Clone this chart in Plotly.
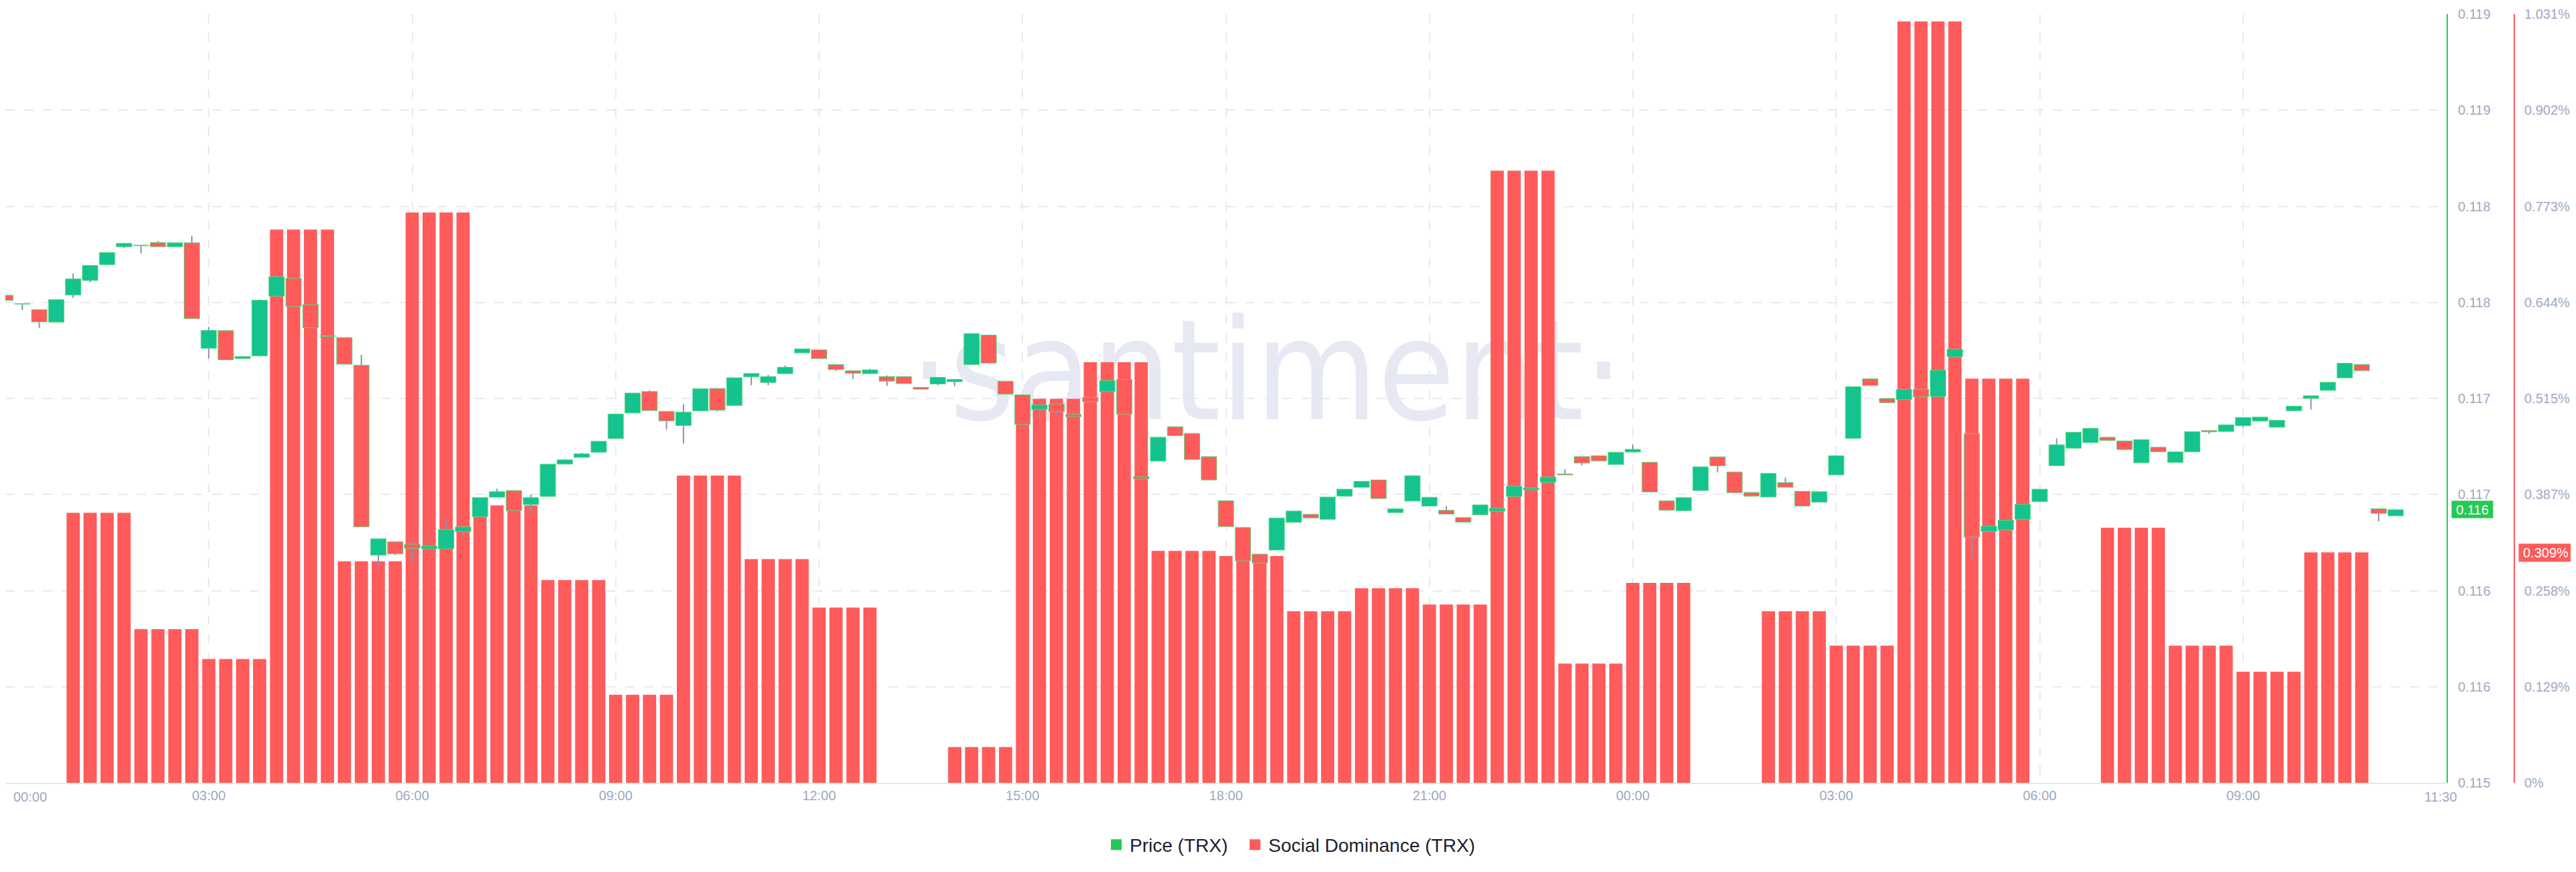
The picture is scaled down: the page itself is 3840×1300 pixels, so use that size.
import pandas as pd
import plotly.graph_objects as go

# ---------------- data ----------------
start = pd.Timestamp("2024-01-01 00:00")
slots = pd.date_range(start, periods=144, freq="15min")   # 15-minute candles / bars

opens = [0.117587, 0.117543, 0.117512, 0.117447, 0.117588, 0.117664, 0.117746, 0.117839, 0.117845, 0.117861,
         0.117839, 0.117860, 0.117311, 0.117403, 0.117258, 0.117271, 0.117582, 0.117675, 0.117539, 0.117376,
         0.117367, 0.117223, 0.116234, 0.116304, 0.116292, 0.116268, 0.116268, 0.116358, 0.116435, 0.116536,
         0.116571, 0.116498, 0.116540, 0.116708, 0.116743, 0.116770, 0.116841, 0.116974, 0.117086, 0.116983,
         0.116909, 0.116985, 0.117102, 0.117013, 0.117162, 0.117133, 0.117179, 0.117287, 0.117303, 0.117226,
         0.117194, 0.117179, 0.117164, 0.117164, 0.117108, 0.117125, 0.117137, 0.117226, 0.117380, 0.117140,
         0.117069, 0.116993, 0.117021, 0.116967, 0.117055, 0.117085, 0.117149, 0.116643, 0.116724, 0.116903,
         0.116868, 0.116747, 0.116518, 0.116379, 0.116240, 0.116261, 0.116405, 0.116447, 0.116421, 0.116541,
         0.116587, 0.116626, 0.116456, 0.116516, 0.116490, 0.116468, 0.116430, 0.116445, 0.116463, 0.116540,
         0.116575, 0.116613, 0.116657, 0.116747, 0.116752, 0.116706, 0.116771, 0.116718, 0.116517, 0.116466,
         0.116571, 0.116746, 0.116667, 0.116561, 0.116537, 0.116612, 0.116567, 0.116510, 0.116652, 0.116842,
         0.117152, 0.117050, 0.117044, 0.117098, 0.117060, 0.117267, 0.116867, 0.116358, 0.116366, 0.116421,
         0.116513, 0.116700, 0.116791, 0.116820, 0.116848, 0.116829, 0.116715, 0.116796, 0.116717, 0.116772,
         0.116883, 0.116878, 0.116908, 0.116932, 0.116900, 0.116986, 0.117050, 0.117092, 0.117157, 0.117227,
         0.116476, 0.116439]
highs = [0.117587, 0.117543, 0.117512, 0.117564, 0.117701, 0.117742, 0.117809, 0.117857, 0.117848, 0.117870,
         0.117862, 0.117896, 0.117422, 0.117403, 0.117268, 0.117564, 0.117683, 0.117675, 0.117539, 0.117376,
         0.117367, 0.117277, 0.116320, 0.116304, 0.116308, 0.116316, 0.116416, 0.116382, 0.116534, 0.116581,
         0.116571, 0.116551, 0.116708, 0.116731, 0.116767, 0.116827, 0.116969, 0.117078, 0.117093, 0.116983,
         0.117021, 0.117101, 0.117102, 0.117158, 0.117180, 0.117172, 0.117222, 0.117308, 0.117303, 0.117226,
         0.117194, 0.117204, 0.117170, 0.117164, 0.117108, 0.117160, 0.117149, 0.117388, 0.117380, 0.117140,
         0.117069, 0.117016, 0.117021, 0.116978, 0.117055, 0.117143, 0.117149, 0.116643, 0.116848, 0.116903,
         0.116868, 0.116747, 0.116518, 0.116379, 0.116240, 0.116428, 0.116464, 0.116447, 0.116537, 0.116578,
         0.116619, 0.116626, 0.116476, 0.116648, 0.116536, 0.116490, 0.116430, 0.116496, 0.116478, 0.116593,
         0.116584, 0.116641, 0.116681, 0.116747, 0.116752, 0.116770, 0.116811, 0.116718, 0.116517, 0.116534,
         0.116694, 0.116746, 0.116667, 0.116561, 0.116660, 0.116638, 0.116567, 0.116565, 0.116752, 0.117111,
         0.117152, 0.117050, 0.117097, 0.117098, 0.117197, 0.117306, 0.116867, 0.116385, 0.116416, 0.116499,
         0.116578, 0.116842, 0.116874, 0.116894, 0.116848, 0.116829, 0.116836, 0.116796, 0.116772, 0.116877,
         0.116883, 0.116913, 0.116951, 0.116953, 0.116936, 0.117010, 0.117064, 0.117134, 0.117233, 0.117227,
         0.116476, 0.116471]
lows = [0.117560, 0.117511, 0.117417, 0.117447, 0.117573, 0.117654, 0.117746, 0.117833, 0.117805, 0.117839,
        0.117839, 0.117465, 0.117258, 0.117251, 0.117255, 0.117271, 0.117582, 0.117529, 0.117418, 0.117357,
        0.117228, 0.116382, 0.116184, 0.116235, 0.116190, 0.116268, 0.116268, 0.116330, 0.116430, 0.116536,
        0.116466, 0.116448, 0.116540, 0.116708, 0.116743, 0.116770, 0.116841, 0.116974, 0.116987, 0.116888,
        0.116815, 0.116985, 0.116984, 0.117013, 0.117119, 0.117119, 0.117179, 0.117287, 0.117257, 0.117194,
        0.117151, 0.117179, 0.117116, 0.117127, 0.117098, 0.117119, 0.117114, 0.117226, 0.117234, 0.117072,
        0.116915, 0.116950, 0.116960, 0.116955, 0.117033, 0.117085, 0.116969, 0.116631, 0.116724, 0.116856,
        0.116732, 0.116625, 0.116383, 0.116205, 0.116194, 0.116261, 0.116405, 0.116428, 0.116421, 0.116541,
        0.116587, 0.116529, 0.116456, 0.116516, 0.116490, 0.116448, 0.116406, 0.116445, 0.116442, 0.116540,
        0.116557, 0.116613, 0.116652, 0.116701, 0.116725, 0.116706, 0.116771, 0.116563, 0.116468, 0.116466,
        0.116571, 0.116665, 0.116559, 0.116541, 0.116537, 0.116588, 0.116490, 0.116510, 0.116652, 0.116842,
        0.117117, 0.117028, 0.117044, 0.117058, 0.117060, 0.117267, 0.116226, 0.116358, 0.116366, 0.116421,
        0.116513, 0.116700, 0.116791, 0.116820, 0.116831, 0.116784, 0.116715, 0.116773, 0.116717, 0.116772,
        0.116865, 0.116878, 0.116900, 0.116932, 0.116900, 0.116986, 0.116992, 0.117092, 0.117157, 0.117194,
        0.116409, 0.116439]
closes = [0.117560, 0.117541, 0.117448, 0.117564, 0.117672, 0.117742, 0.117809, 0.117857, 0.117848, 0.117839,
          0.117860, 0.117465, 0.117404, 0.117251, 0.117268, 0.117561, 0.117683, 0.117529, 0.117418, 0.117373,
          0.117228, 0.116382, 0.116320, 0.116241, 0.116270, 0.116282, 0.116368, 0.116382, 0.116534, 0.116565,
          0.116466, 0.116534, 0.116708, 0.116731, 0.116762, 0.116827, 0.116969, 0.117078, 0.116987, 0.116933,
          0.116979, 0.117101, 0.116989, 0.117158, 0.117180, 0.117164, 0.117212, 0.117308, 0.117257, 0.117200,
          0.117181, 0.117199, 0.117140, 0.117127, 0.117098, 0.117160, 0.117149, 0.117388, 0.117234, 0.117072,
          0.116915, 0.117016, 0.116981, 0.116955, 0.117033, 0.117143, 0.116969, 0.116631, 0.116848, 0.116856,
          0.116732, 0.116625, 0.116383, 0.116205, 0.116194, 0.116428, 0.116464, 0.116428, 0.116537, 0.116578,
          0.116619, 0.116529, 0.116476, 0.116648, 0.116536, 0.116448, 0.116406, 0.116496, 0.116478, 0.116593,
          0.116584, 0.116641, 0.116652, 0.116714, 0.116725, 0.116770, 0.116785, 0.116563, 0.116468, 0.116534,
          0.116694, 0.116699, 0.116559, 0.116541, 0.116660, 0.116588, 0.116490, 0.116565, 0.116752, 0.117111,
          0.117117, 0.117028, 0.117097, 0.117058, 0.117197, 0.117306, 0.116328, 0.116385, 0.116416, 0.116499,
          0.116578, 0.116809, 0.116874, 0.116894, 0.116831, 0.116784, 0.116836, 0.116773, 0.116772, 0.116877,
          0.116876, 0.116913, 0.116951, 0.116953, 0.116936, 0.117010, 0.117064, 0.117134, 0.117233, 0.117194,
          0.116452, 0.116471]

social_dominance = [  # % per 15-minute slot
    0, 0, 0, 0,
    0.362, 0.362, 0.362, 0.362,
    0.206, 0.206, 0.206, 0.206,
    0.166, 0.166, 0.166, 0.166,
    0.742, 0.742, 0.742, 0.742,
    0.297, 0.297, 0.297, 0.297,
    0.765, 0.765, 0.765, 0.765,
    0.372, 0.372, 0.372, 0.372,
    0.272, 0.272, 0.272, 0.272,
    0.118, 0.118, 0.118, 0.118,
    0.412, 0.412, 0.412, 0.412,
    0.300, 0.300, 0.300, 0.300,
    0.235, 0.235, 0.235, 0.235,
    0, 0, 0, 0,
    0.048, 0.048, 0.048, 0.048,
    0.515, 0.515, 0.515, 0.515,
    0.564, 0.564, 0.564, 0.564,
    0.311, 0.311, 0.311, 0.311,
    0.304, 0.304, 0.304, 0.304,
    0.230, 0.230, 0.230, 0.230,
    0.261, 0.261, 0.261, 0.261,
    0.239, 0.239, 0.239, 0.239,
    0.821, 0.821, 0.821, 0.821,
    0.160, 0.160, 0.160, 0.160,
    0.268, 0.268, 0.268, 0.268,
    0, 0, 0, 0,
    0.230, 0.230, 0.230, 0.230,
    0.184, 0.184, 0.184, 0.184,
    1.021, 1.021, 1.021, 1.021,
    0.542, 0.542, 0.542, 0.542,
    0, 0, 0, 0,
    0.342, 0.342, 0.342, 0.342,
    0.184, 0.184, 0.184, 0.184,
    0.149, 0.149, 0.149, 0.149,
    0.309, 0.309, 0.309, 0.309,
    0, 0, 0, 0,
]

x_tick_labels = ["00:00", "03:00", "06:00", "09:00", "12:00", "15:00", "18:00", "21:00",
                 "00:00", "03:00", "06:00", "09:00"]
x_tick_hours = [0, 3, 6, 9, 12, 15, 18, 21, 24, 27, 30, 33]
last_time_label = "11:30"

price_ticks = [0.11505, 0.11555, 0.11605, 0.11655, 0.11705, 0.11755, 0.11805, 0.11855, 0.11905]
price_tick_labels = ["0.115", "0.116", "0.116", "0.117", "0.117", "0.118", "0.118", "0.119", "0.119"]
social_ticks = [0, 0.128875, 0.25775, 0.386625, 0.5155, 0.644375, 0.77325, 0.902125, 1.031]
social_tick_labels = ["0%", "0.129%", "0.258%", "0.387%", "0.515%", "0.644%", "0.773%", "0.902%", "1.031%"]

last_price_label = "0.116"
last_social_label = "0.309%"

# ---------------- styling ----------------
GREEN_BODY = "#14c38e"
GREEN_LINE = "#26c953"
RED = "#ff5b5b"
WICK = "#8a93b6"
GRID = "#e7e9f2"
TICK = "#9ea8c2"
FONT = "Liberation Sans, Arial, sans-serif"
SLOT_MS = 15 * 60 * 1000

ct = list(slots[:len(opens)])

# wick segments (outside of the bodies)
wx, wy = [], []
for t, o, h, l, c in zip(ct, opens, highs, lows, closes):
    top, bot = max(o, c), min(o, c)
    if h > top:
        wx += [t, t, None]
        wy += [top, h, None]
    if l < bot:
        wx += [t, t, None]
        wy += [bot, l, None]

body_base = [min(o, c) for o, c in zip(opens, closes)]
body_len = [abs(c - o) for o, c in zip(opens, closes)]
body_col = [GREEN_BODY if c >= o else RED for o, c in zip(opens, closes)]

fig = go.Figure()

fig.add_trace(go.Bar(
    x=list(slots), y=social_dominance, yaxis="y", width=0.78 * SLOT_MS,
    marker=dict(color=RED, line=dict(width=0)), showlegend=False, hoverinfo="skip",
))
fig.add_trace(go.Scatter(
    x=wx, y=wy, yaxis="y2", mode="lines", line=dict(color=WICK, width=2),
    showlegend=False, hoverinfo="skip",
))
fig.add_trace(go.Bar(
    x=ct, y=body_len, base=body_base, yaxis="y2", width=0.91 * SLOT_MS,
    marker=dict(color=body_col, line=dict(color="#5ad982", width=1)),
    showlegend=False, hoverinfo="skip",
))
# legend entries (trailing no-break spaces only widen the gap between the two entries)
fig.add_trace(go.Scatter(x=[None], y=[None], mode="markers", name="Price (TRX)\u00a0\u00a0",
                         marker=dict(symbol="square", size=18, color=GREEN_LINE)))
fig.add_trace(go.Scatter(x=[None], y=[None], mode="markers", name="Social Dominance (TRX)",
                         marker=dict(symbol="square", size=18, color=RED)))

PLOT_W = 3740.0
x_end = start + pd.Timedelta(hours=36)
tickvals = [start + pd.Timedelta(hours=h) for h in x_tick_hours]
ticktext = [""] + x_tick_labels[1:]

fig.update_layout(
    width=3840, height=1300,
    margin=dict(l=0, r=100, t=13, b=141, pad=0),
    paper_bgcolor="white", plot_bgcolor="white",
    barmode="overlay",
    font=dict(family=FONT, size=20, color=TICK),
    showlegend=True,
    legend=dict(orientation="h", x=1916 / PLOT_W, xanchor="center", y=-0.0807, yanchor="middle",
                font=dict(size=28, color="#1b1e2f", family=FONT),
                bgcolor="rgba(0,0,0,0)"),
    xaxis=dict(
        domain=[0, 3639 / PLOT_W], type="date", range=[start, x_end],
        tickmode="array", tickvals=tickvals, ticktext=ticktext,
        showgrid=True, gridcolor=GRID, gridwidth=2, griddash="14px,14px",
        showline=True, linecolor="#e3e7f0", linewidth=2, ticks="", zeroline=False,
        tickfont=dict(size=20, color=TICK, family=FONT), fixedrange=True,
    ),
    yaxis=dict(
        range=[0, 1.031], side="right", anchor="free", position=1.0,
        tickmode="array", tickvals=social_ticks, ticktext=social_tick_labels,
        showgrid=True, gridcolor=GRID, gridwidth=2, griddash="14px,14px",
        showline=True, linecolor=RED, linewidth=2, ticks="", zeroline=False,
        ticklabelstandoff=10, tickfont=dict(size=20, color=TICK, family=FONT),
    ),
    yaxis2=dict(
        range=[0.11505, 0.11905], side="right", anchor="x", overlaying="y",
        tickmode="array", tickvals=price_ticks, ticktext=price_tick_labels,
        showgrid=False, showline=True, linecolor=GREEN_LINE, linewidth=2, ticks="", zeroline=False,
        ticklabelstandoff=11, tickfont=dict(size=20, color=TICK, family=FONT),
    ),
    shapes=[dict(
        type="rect", xref="paper", yref="paper", x0=0.4027, x1=0.6027, y0=0.4493, y1=0.6493,
        line=dict(width=0), fillcolor="rgba(0,0,0,0)", layer="below",
        label=dict(text="·santiment·", textposition="middle center",
                   font=dict(size=208, color="#e6e9f2",
                             family="DejaVu Sans Condensed, sans-serif")),
    )],
    annotations=[
        dict(text=x_tick_labels[0], x=0, xref="paper", xanchor="left", xshift=10,
             y=0, yref="paper", yanchor="middle", yshift=-21, showarrow=False,
             font=dict(size=20, color=TICK, family=FONT)),
        dict(text=last_time_label, x=3630 / PLOT_W, xref="paper", xanchor="center",
             y=0, yref="paper", yanchor="middle", yshift=-21, showarrow=False,
             font=dict(size=20, color=TICK, family=FONT)),
        dict(text=last_price_label, x=3646 / PLOT_W, xref="paper", xanchor="left",
             y=closes[-1], yref="y2", yanchor="middle", showarrow=False,
             bgcolor=GREEN_LINE, width=57, height=21, borderpad=2,
             font=dict(size=20, color="white", family=FONT)),
        dict(text=last_social_label, x=3746 / PLOT_W, xref="paper", xanchor="left",
             y=social_dominance[-5], yref="y", yanchor="middle", showarrow=False,
             bgcolor=RED, width=76, height=22, borderpad=2,
             font=dict(size=20, color="white", family=FONT)),
    ],
)

fig.write_html("out.html", config={"displayModeBar": False})
